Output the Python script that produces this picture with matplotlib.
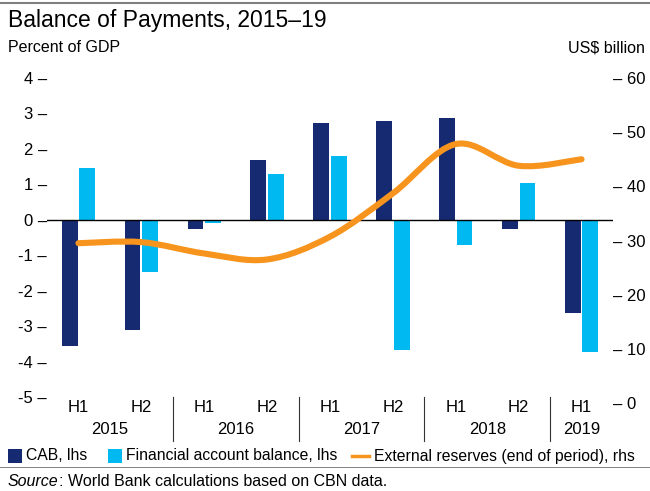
import matplotlib.pyplot as plt
import matplotlib.transforms as mtransforms
from matplotlib.path import Path
from matplotlib.patches import PathPatch, Rectangle
from matplotlib.lines import Line2D
import numpy as np

plt.rcParams["font.family"] = ["Liberation Sans", "DejaVu Sans"]

# Data
halves = ["H1", "H2", "H1", "H2", "H1", "H2", "H1", "H2", "H1"]
years = ["2015", "2016", "2017", "2018", "2019"]
cab = [-3.56, -3.09, -0.25, 1.70, 2.72, 2.78, 2.86, -0.25, -2.63]
fab = [1.47, -1.46, -0.10, 1.30, 1.81, -3.67, -0.71, 1.05, -3.73]
reserves = [29.5, 29.7, 27.6, 26.5, 30.7, 38.7, 47.8, 43.8, 45.0]

NAVY = "#162A72"
CYAN = "#00B9F1"
ORANGE = "#F7941D"

W, H = 650, 491


def fx(px):
    return px / W


def fy(py):
    return 1 - py / H


fig = plt.figure(figsize=(6.5, 4.91), dpi=100)
ax = fig.add_axes([fx(47), fy(403), fx(613) - fx(47), fy(78) - fy(403)])
ax2 = ax.twinx()

x = np.arange(len(halves))
bw = 0.25
off = 0.14
ax.bar(x - off, cab, width=bw, color=NAVY, zorder=2)
ax.bar(x + off, fab, width=bw, color=CYAN, zorder=2)
ax.axhline(0, color="black", linewidth=1, zorder=3)

ax.set_xlim(-0.5, 8.5)
ax.set_ylim(-5.16, 4)
ax2.set_ylim(0, 60)

# Smooth reserves line (Catmull-Rom converted to cubic Bezier segments)
pts = np.column_stack([x, reserves]).astype(float)
ext = np.vstack([pts[0], pts, pts[-1]])
verts = [tuple(pts[0])]
codes = [Path.MOVETO]
for i in range(len(pts) - 1):
    p0, p1, p2, p3 = ext[i], ext[i + 1], ext[i + 2], ext[i + 3]
    c1 = p1 + (p2 - p0) / 6
    c2 = p2 - (p3 - p1) / 6
    verts += [tuple(c1), tuple(c2), tuple(p2)]
    codes += [Path.CURVE4] * 3
ax2.add_patch(PathPatch(Path(verts, codes), facecolor="none", edgecolor=ORANGE,
                        linewidth=4.4, capstyle="round", zorder=4))

# Axes styling
for a in (ax, ax2):
    for s in a.spines.values():
        s.set_visible(False)
    a.tick_params(length=0)
ax.set_xticks([])
ax.set_yticks(range(-5, 5))
ax.set_yticklabels([f"{v} \u2013" for v in range(-5, 5)], fontsize=12)
ax.tick_params(axis="y", pad=0)
ax2.set_yticks(range(0, 70, 10))
ax2.set_yticklabels([f"\u2013 {v}" for v in range(0, 70, 10)], fontsize=12)
ax2.tick_params(axis="y", pad=0)

# Category labels under the plot
trans = mtransforms.blended_transform_factory(ax.transData, fig.transFigure)
for i, h in enumerate(halves):
    fig.text(i, fy(408), h, transform=trans, ha="center", va="center", fontsize=12)
for j, yr in enumerate(years):
    xc = 2 * j + 0.5 if j < 4 else 2 * j
    fig.text(xc, fy(430), yr, transform=trans, ha="center", va="center", fontsize=12)
for sep in [1.5, 3.5, 5.5, 7.5]:
    fig.add_artist(Line2D([sep, sep], [fy(397), fy(441)], transform=trans,
                          color="#333333", linewidth=0.8))

# Titles
fig.text(fx(8), fy(20), "Balance of Payments, 2015\u201319", fontsize=16.5,
         ha="left", va="center")
fig.text(fx(8), fy(48), "Percent of GDP", fontsize=11.5, ha="left", va="center")
fig.text(fx(645), fy(48), "US$ billion", fontsize=11.5, ha="right", va="center")

# Top rule and rule above source
fig.add_artist(Line2D([0, 1], [fy(3), fy(3)], color="#808080", linewidth=1.5))
fig.add_artist(Line2D([0, 1], [fy(467), fy(467)], color="#808080", linewidth=0.7))

# Legend drawn by hand
ly = 456
fs_leg = 11.3
fig.add_artist(Rectangle((fx(8), fy(ly + 7)), fx(14), fy(0) - fy(14),
                         facecolor=NAVY, edgecolor="none"))
fig.text(fx(26), fy(ly), "CAB, lhs", fontsize=fs_leg, ha="left", va="center")
fig.add_artist(Rectangle((fx(108), fy(ly + 7)), fx(14), fy(0) - fy(14),
                         facecolor=CYAN, edgecolor="none"))
fig.text(fx(126), fy(ly), "Financial account balance, lhs", fontsize=fs_leg,
         ha="left", va="center")
fig.add_artist(Line2D([fx(352), fx(369)], [fy(ly), fy(ly)], color=ORANGE,
                      linewidth=2.5))
fig.text(fx(374), fy(ly), "External reserves (end of period), rhs", fontsize=fs_leg,
         ha="left", va="center")

# Source line: italic "Source" followed by the rest in regular type
renderer = fig.canvas.get_renderer()
src = fig.text(fx(8), fy(481), "Source", fontsize=11.5, style="italic",
               ha="left", va="center")
bb = src.get_window_extent(renderer)
fig.text(bb.x1 / W, fy(481), ": World Bank calculations based on CBN data.",
         fontsize=11.5, ha="left", va="center")

plt.savefig("out.png", dpi=100)
